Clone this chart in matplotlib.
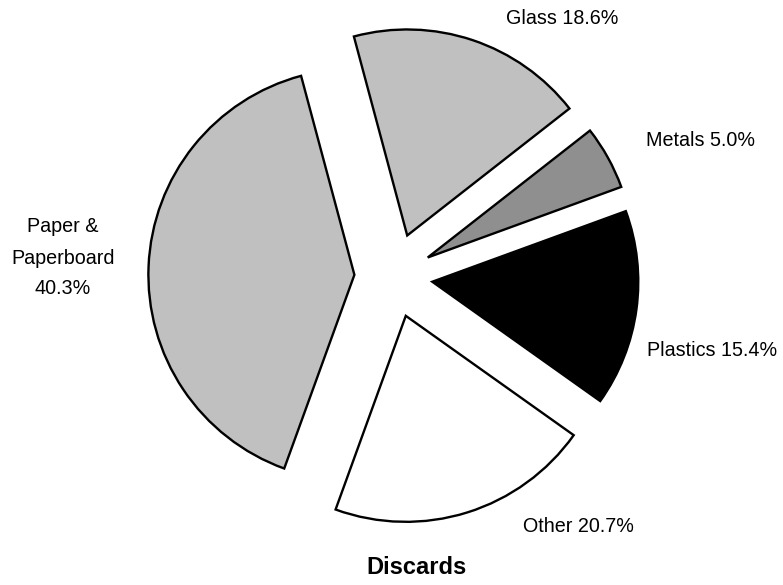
import matplotlib
matplotlib.use('Agg')
import matplotlib.pyplot as plt

plt.rcParams['font.family'] = ['Liberation Sans', 'DejaVu Sans']

# data
names = ['Glass', 'Metals', 'Plastics', 'Other', 'Paper &\nPaperboard\n']
shares = [18.6, 5.0, 15.4, 20.7, 40.3]
colors = ['#c0c0c0', '#8f8f8f', '#000000', '#ffffff', '#c0c0c0']
explode = [0.21, 0.19, 0.19, 0.2, 0.19]

W, H = 783, 585
R = 206.0          # pie radius in pixels
cx, cy = 393.5, 308.5  # pie center in pixels (from bottom)

fig = plt.figure(figsize=(W / 100, H / 100), dpi=100)
ax = fig.add_axes([0, 0, 1, 1])

ax.pie(shares, explode=explode, colors=colors, startangle=105, counterclock=False,
       wedgeprops=dict(edgecolor='black', linewidth=1.7))
ax.set_xlim(-cx / R, (W - cx) / R)
ax.set_ylim(-cy / R, (H - cy) / R)
ax.set_aspect('auto')
ax.axis('off')

labels = []
for n, v in zip(names, shares):
    sep = '' if n.endswith('\n') else ' '
    labels.append(f'{n}{sep}{v:.1f}%')

# label positions in pixels (x, y from top)
label_pos = [(562, 18), (701, 141), (712, 350), (578, 526), (63, 258)]
for txt, (x, y) in zip(labels, label_pos):
    fig.text(x / W, 1 - y / H, txt, ha='center', va='center', fontsize=14.2,
             linespacing=1.8)

fig.text(416 / W, 1 - 568 / H, 'Discards', ha='center', va='center',
         fontsize=17, fontweight='bold')

fig.savefig('out.png', dpi=100)
